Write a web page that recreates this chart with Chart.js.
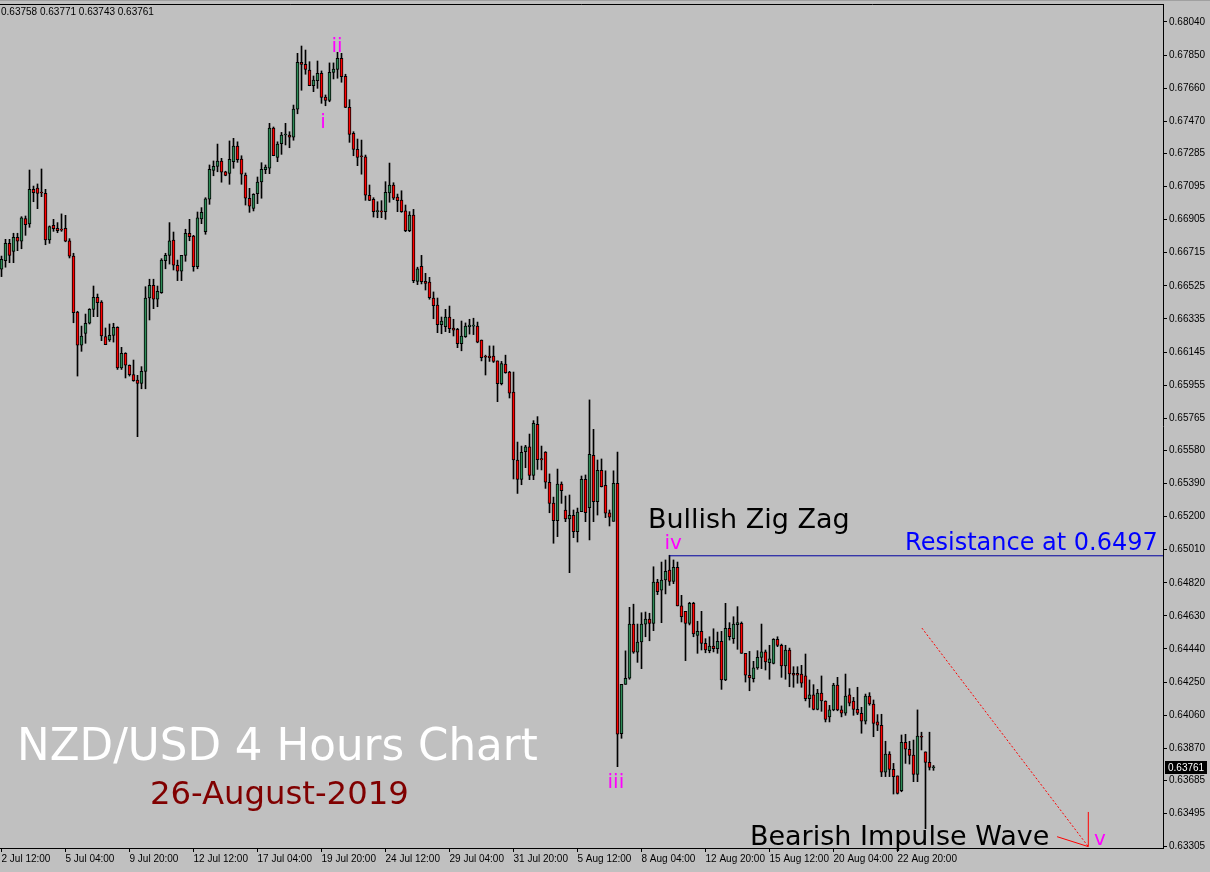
<!DOCTYPE html>
<html>
<head>
<meta charset="utf-8">
<title>NZD/USD 4 Hours Chart</title>
<script src="https://cdn.jsdelivr.net/npm/chart.js@4.4.1/dist/chart.umd.min.js"></script>
<style>
    html, body { margin: 0; padding: 0; background: #C0C0C0; }
    #wrap { width: 1210px; height: 872px; }
</style>
</head>
<body>
<div id="wrap"><canvas id="fxChart" width="1210" height="872"></canvas></div>
<script>
// NZD/USD H4 candles, 2 Jul 12:00 -> 26 Aug 08:00 (one bar per 4 hours, weekends skipped)
const open = [
    0.66620,0.66669,0.66769,0.66723,0.66804,0.66781,0.66911,0.66880,0.67079,0.67087,
    0.67062,0.67056,0.66788,0.66873,0.66855,0.66851,0.66855,0.66784,0.66696,0.66375,
    0.66184,0.66252,0.66310,0.66390,0.66459,0.66432,0.66233,0.66214,0.66241,0.66287,
    0.66053,0.66138,0.66069,0.66015,0.65984,0.65965,0.66034,0.66455,0.66528,0.66448,
    0.66486,0.66669,0.66700,0.66788,0.66643,0.66609,0.66700,0.66827,0.66811,0.66635,
    0.66909,0.66836,0.67022,0.67188,0.67211,0.67242,0.67179,0.67171,0.67238,0.67328,
    0.67253,0.67161,0.67028,0.66970,0.67054,0.67121,0.67192,0.67200,0.67431,0.67263,
    0.67341,0.67391,0.67391,0.67379,0.67539,0.67809,0.67797,0.67764,0.67674,0.67703,
    0.67745,0.67609,0.67590,0.67751,0.67768,0.67831,0.67728,0.67550,0.67401,0.67309,
    0.67268,0.67266,0.67045,0.67022,0.66951,0.66953,0.66951,0.67058,0.67104,0.67035,
    0.67018,0.66955,0.66842,0.66932,0.66551,0.66637,0.66551,0.66546,0.66455,0.66415,
    0.66302,0.66290,0.66346,0.66283,0.66275,0.66193,0.66233,0.66290,0.66294,0.66294,
    0.66214,0.66117,0.66121,0.66121,0.66094,0.65963,0.66076,0.66030,0.65915,0.65525,
    0.65414,0.65573,0.65600,0.65437,0.65730,0.65533,0.65571,0.65397,0.65278,0.65176,
    0.65387,0.65238,0.65187,0.65207,0.65113,0.65228,0.65414,0.65251,0.65552,0.65286,
    0.65466,0.65380,0.65221,0.65173,0.65391,0.63953,0.64237,0.64272,0.64583,0.64421,
    0.64480,0.64583,0.64612,0.64587,0.64824,0.64777,0.64836,0.64893,0.64828,0.64909,
    0.64687,0.64656,0.64587,0.64702,0.64518,0.64541,0.64472,0.64430,0.64457,0.64441,
    0.64484,0.64262,0.64558,0.64499,0.64579,0.64587,0.64415,0.64289,0.64269,0.64331,
    0.64392,0.64423,0.64361,0.64357,0.64495,0.64461,0.64342,0.64434,0.64300,0.64300,
    0.64296,0.64285,0.64154,0.64176,0.64093,0.64187,0.64141,0.64050,0.64090,0.64233,
    0.64090,0.64071,0.64176,0.64141,0.64093,0.64071,0.64025,0.64169,0.64124,0.64021,
    0.64002,0.63732,0.63837,0.63749,0.63711,0.63626,0.63904,0.63864,0.63831,0.63720,
    0.63938,0.63849,0.63789,0.63758
];
const high = [
    0.66696,0.66792,0.66792,0.66827,0.66827,0.66922,0.66926,0.67190,0.67098,0.67110,
    0.67196,0.67079,0.66869,0.66907,0.66888,0.66938,0.66930,0.66796,0.66712,0.66379,
    0.66294,0.66363,0.66394,0.66524,0.66478,0.66440,0.66283,0.66306,0.66310,0.66290,
    0.66172,0.66141,0.66071,0.66099,0.66011,0.66061,0.66520,0.66563,0.66563,0.66524,
    0.66681,0.66712,0.66888,0.66834,0.66673,0.66700,0.66850,0.66907,0.66815,0.66949,
    0.66974,0.67031,0.67219,0.67242,0.67339,0.67257,0.67183,0.67357,0.67372,0.67352,
    0.67272,0.67173,0.67085,0.67054,0.67150,0.67232,0.67219,0.67458,0.67437,0.67352,
    0.67406,0.67458,0.67410,0.67563,0.67860,0.67902,0.67879,0.67812,0.67730,0.67816,
    0.67759,0.67621,0.67805,0.67805,0.67866,0.67860,0.67740,0.67594,0.67410,0.67368,
    0.67362,0.67276,0.67104,0.67031,0.67008,0.67014,0.67123,0.67230,0.67117,0.67052,
    0.67071,0.66989,0.66951,0.66964,0.66632,0.66700,0.66597,0.66574,0.66490,0.66455,
    0.66346,0.66390,0.66409,0.66333,0.66281,0.66323,0.66312,0.66333,0.66339,0.66317,
    0.66214,0.66127,0.66180,0.66180,0.66094,0.66091,0.66127,0.66034,0.66030,0.65628,
    0.65605,0.65609,0.65674,0.65751,0.65774,0.65605,0.65573,0.65445,0.65312,0.65473,
    0.65399,0.65318,0.65324,0.65238,0.65249,0.65433,0.65439,0.65870,0.65701,0.65525,
    0.65531,0.65463,0.65238,0.65463,0.65571,0.64237,0.64429,0.64679,0.64697,0.64583,
    0.64648,0.64652,0.64645,0.64912,0.64840,0.64939,0.64951,0.64978,0.64951,0.64939,
    0.64748,0.64656,0.64708,0.64708,0.64599,0.64656,0.64499,0.64510,0.64556,0.64537,
    0.64541,0.64702,0.64591,0.64625,0.64683,0.64595,0.64415,0.64426,0.64369,0.64430,
    0.64583,0.64434,0.64461,0.64499,0.64510,0.64468,0.64461,0.64445,0.64338,0.64338,
    0.64346,0.64411,0.64262,0.64235,0.64208,0.64285,0.64142,0.64116,0.64243,0.64277,
    0.64113,0.64296,0.64212,0.64162,0.64220,0.64105,0.64181,0.64189,0.64147,0.64063,
    0.64065,0.63910,0.63850,0.63783,0.63711,0.63946,0.63950,0.63910,0.63917,0.64090,
    0.63962,0.63849,0.63962,0.63771
];
const low = [
    0.66578,0.66632,0.66658,0.66658,0.66727,0.66738,0.66815,0.66861,0.67008,0.66968,
    0.67037,0.66761,0.66769,0.66838,0.66830,0.66838,0.66778,0.66685,0.66313,0.66007,
    0.66149,0.66195,0.66306,0.66348,0.66348,0.66210,0.66187,0.66206,0.66202,0.66045,
    0.66045,0.65996,0.66007,0.65977,0.65659,0.65934,0.65934,0.66329,0.66394,0.66405,
    0.66482,0.66623,0.66650,0.66616,0.66555,0.66555,0.66666,0.66784,0.66609,0.66623,
    0.66882,0.66821,0.66993,0.67157,0.67180,0.67120,0.67157,0.67108,0.67200,0.67234,
    0.67108,0.66989,0.66947,0.66955,0.66997,0.67028,0.67169,0.67169,0.67272,0.67238,
    0.67280,0.67334,0.67318,0.67361,0.67513,0.67648,0.67740,0.67674,0.67640,0.67659,
    0.67573,0.67559,0.67582,0.67713,0.67717,0.67694,0.67548,0.67349,0.67272,0.67215,
    0.67166,0.67016,0.67014,0.66920,0.66916,0.66916,0.66907,0.67005,0.67020,0.66951,
    0.66947,0.66836,0.66836,0.66543,0.66532,0.66536,0.66501,0.66448,0.66336,0.66256,
    0.66250,0.66262,0.66256,0.66237,0.66170,0.66152,0.66229,0.66248,0.66245,0.66198,
    0.66094,0.66013,0.66091,0.66085,0.65860,0.65956,0.66023,0.65881,0.65416,0.65333,
    0.65383,0.65481,0.65412,0.65412,0.65471,0.65468,0.65362,0.65222,0.65047,0.65085,
    0.65276,0.65171,0.64878,0.65079,0.65054,0.65228,0.65171,0.65066,0.65171,0.65209,
    0.65370,0.65194,0.65146,0.65173,0.63764,0.63927,0.64237,0.64266,0.64415,0.64363,
    0.64327,0.64510,0.64487,0.64545,0.64752,0.64591,0.64756,0.64805,0.64815,0.64687,
    0.64595,0.64373,0.64578,0.64510,0.64415,0.64434,0.64418,0.64418,0.64423,0.64415,
    0.64208,0.64258,0.64491,0.64472,0.64438,0.64415,0.64250,0.64200,0.64250,0.64323,
    0.64327,0.64319,0.64266,0.64354,0.64453,0.64277,0.64266,0.64223,0.64220,0.64243,
    0.64220,0.64142,0.64105,0.64090,0.64090,0.64082,0.64021,0.64021,0.64085,0.64085,
    0.64050,0.64059,0.64113,0.64059,0.64063,0.63956,0.64009,0.64117,0.63936,0.63971,
    0.63707,0.63707,0.63707,0.63607,0.63607,0.63620,0.63783,0.63779,0.63678,0.63678,
    0.63860,0.63408,0.63745,0.63743
];
const close = [
    0.66677,0.66769,0.66700,0.66804,0.66781,0.66915,0.66876,0.67079,0.67060,0.67056,
    0.67058,0.66788,0.66865,0.66853,0.66842,0.66844,0.66781,0.66696,0.66371,0.66184,
    0.66237,0.66310,0.66390,0.66459,0.66428,0.66237,0.66187,0.66241,0.66287,0.66053,
    0.66138,0.66069,0.66015,0.65980,0.65965,0.66034,0.66455,0.66528,0.66448,0.66494,
    0.66673,0.66700,0.66784,0.66643,0.66609,0.66700,0.66827,0.66807,0.66635,0.66915,
    0.66947,0.67024,0.67194,0.67211,0.67242,0.67177,0.67159,0.67252,0.67328,0.67249,
    0.67166,0.67028,0.66982,0.67051,0.67121,0.67194,0.67207,0.67431,0.67272,0.67339,
    0.67391,0.67393,0.67378,0.67540,0.67809,0.67797,0.67768,0.67674,0.67707,0.67745,
    0.67607,0.67590,0.67751,0.67770,0.67831,0.67726,0.67550,0.67395,0.67309,0.67263,
    0.67266,0.67045,0.67016,0.66951,0.66953,0.66950,0.67062,0.67104,0.67028,0.67014,
    0.66951,0.66842,0.66932,0.66555,0.66622,0.66549,0.66539,0.66457,0.66411,0.66302,
    0.66323,0.66346,0.66279,0.66271,0.66193,0.66237,0.66294,0.66300,0.66296,0.66202,
    0.66113,0.66115,0.66113,0.66091,0.65963,0.66078,0.66026,0.65908,0.65525,0.65414,
    0.65569,0.65600,0.65437,0.65736,0.65527,0.65525,0.65397,0.65276,0.65176,0.65387,
    0.65349,0.65187,0.65207,0.65113,0.65226,0.65414,0.65222,0.65558,0.65286,0.65466,
    0.65372,0.65219,0.65197,0.65391,0.63950,0.64237,0.64272,0.64583,0.64421,0.64480,
    0.64583,0.64612,0.64587,0.64824,0.64769,0.64836,0.64886,0.64828,0.64909,0.64687,
    0.64625,0.64587,0.64702,0.64526,0.64541,0.64472,0.64434,0.64457,0.64441,0.64484,
    0.64262,0.64558,0.64510,0.64583,0.64591,0.64415,0.64289,0.64273,0.64331,0.64392,
    0.64423,0.64365,0.64384,0.64495,0.64461,0.64342,0.64434,0.64296,0.64290,0.64289,
    0.64243,0.64154,0.64176,0.64093,0.64187,0.64142,0.64036,0.64090,0.64233,0.64090,
    0.64071,0.64169,0.64128,0.64093,0.64071,0.64025,0.64169,0.64124,0.64013,0.64002,
    0.63732,0.63837,0.63749,0.63707,0.63611,0.63904,0.63864,0.63829,0.63720,0.63940,
    0.63933,0.63789,0.63760,0.63761
];

// Time axis labels (bar index -> label)
const timeTickIndex = [0, 16, 32, 48, 64, 80, 96, 112, 128, 144, 160, 176, 192, 208, 224];
const timeTickLabels = [
    '2 Jul 12:00', '5 Jul 04:00', '9 Jul 20:00', '12 Jul 12:00', '17 Jul 04:00',
    '19 Jul 20:00', '24 Jul 12:00', '29 Jul 04:00', '31 Jul 20:00', '5 Aug 12:00',
    '8 Aug 04:00', '12 Aug 20:00', '15 Aug 12:00', '20 Aug 04:00', '22 Aug 20:00'
];

// Price axis labels
const priceTicks = [
    0.68040, 0.67850, 0.67660, 0.67470, 0.67285, 0.67095, 0.66905, 0.66715, 0.66525,
    0.66335, 0.66145, 0.65955, 0.65765, 0.65580, 0.65390, 0.65200, 0.65010, 0.64820,
    0.64630, 0.64440, 0.64250, 0.64060, 0.63870, 0.63685, 0.63495, 0.63305
];

// Resistance line and projected wave v arrow (bar index, price)
const resistanceLevel = 0.64975;
const resistanceFrom = 167;
const projectionX = [230.1, 271.7];
const projectionY = [0.64560, 0.63305];
const arrowHeadX = [263.9, 271.7, 271.7];
const arrowHeadY = [0.63362, 0.63305, 0.63504];

// Elliott wave counts (label, bar index, baseline price)
const waveLabels = ['i', 'ii', 'iii', 'iv', 'v'];
const waveX = [80.4, 83.9, 153.6, 167.9, 274.6];
const waveY = [0.67431, 0.67868, 0.63642, 0.65014, 0.63314];

// Chart notes (text, bar index of left edge, baseline price)
const noteTexts = ['Bullish Zig Zag', 'Resistance at 0.6497', 'Bearish Impulse Wave', 'NZD/USD 4 Hours Chart', '26-August-2019'];
const noteX = [161.6, 225.9, 187.1, 3.9, 37.1];
const noteY = [0.65135, 0.65008, 0.63314, 0.63800, 0.63550];

// Colours
const BG = '#C0C0C0';
const BULL = '#2E8B57';
const BEAR = '#FF0000';
const WAVE = '#FF00FF';
const noteStyle = [
    { color: '#000000', size: 27 },
    { color: '#0000FF', size: 24 },
    { color: '#000000', size: 27 },
    { color: '#FFFFFF', size: 43.6 },
    { color: '#800000', size: 32.3 }
];

const AXIS_FONT = { family: 'Liberation Sans', size: 10 };

document.addEventListener('DOMContentLoaded', () => {
    renderChart();
});

function renderChart() {
    const ctx = document.getElementById('fxChart').getContext('2d');

    const wickData = open.map((o, i) => ({ x: i, y: [low[i], high[i]] }));
    const bodyData = open.map((o, i) => ({ x: i, y: [Math.min(o, close[i]), Math.max(o, close[i])] }));
    const bodyColors = open.map((o, i) => close[i] >= o ? BULL : BEAR);

    const resistanceData = [
        { x: resistanceFrom, y: resistanceLevel },
        { x: 300, y: resistanceLevel }
    ];
    const projectionData = projectionX.map((x, i) => ({ x: x, y: projectionY[i] }));
    const arrowData = arrowHeadX.map((x, i) => ({ x: x, y: arrowHeadY[i] }));

    // bar i sits at pixel 4*i + 1.5, plot ends at x = 1163
    const xMin = -0.375;
    const xMax = xMin + 1163 / 4;
    // plot spans y = 4 .. 848
    const yMax = 0.681433;
    const yMin = 0.632971;

    const decor = {
        id: 'decor',
        beforeDraw(chart) {
            const c = chart.ctx;
            c.save();
            c.fillStyle = BG;
            c.fillRect(0, 0, chart.width, chart.height);
            c.fillStyle = '#A0A0A0';
            c.fillRect(0, 0, chart.width, 1);
            c.restore();
        },
        afterDraw(chart) {
            const c = chart.ctx;
            const area = chart.chartArea;
            const xs = chart.scales.x;
            const ys = chart.scales.y;
            const last = close.length - 1;

            c.save();
            // top frame
            c.strokeStyle = '#000000';
            c.lineWidth = 1;
            c.beginPath();
            c.moveTo(0, area.top + 0.5);
            c.lineTo(area.right + 0.5, area.top + 0.5);
            c.stroke();

            // OHLC of the last bar
            c.fillStyle = '#000000';
            c.font = '10px "Liberation Sans"';
            c.textBaseline = 'middle';
            c.textAlign = 'left';
            const ohlc = [open[last], high[last], low[last], close[last]].map(v => v.toFixed(5)).join(' ');
            c.fillText(ohlc, 1, 12);

            // current price box
            const py = Math.round(ys.getPixelForValue(close[last]));
            c.fillStyle = '#000000';
            c.fillRect(area.right + 2, py - 6, 42, 13);
            c.fillStyle = '#FFFFFF';
            c.fillText(close[last].toFixed(5), area.right + 5, py + 1);

            // notes
            c.textBaseline = 'alphabetic';
            noteTexts.forEach((t, i) => {
                c.fillStyle = noteStyle[i].color;
                c.font = noteStyle[i].size + 'px "DejaVu Sans"';
                c.fillText(t, xs.getPixelForValue(noteX[i]), ys.getPixelForValue(noteY[i]));
            });

            // wave counts
            c.fillStyle = WAVE;
            c.font = '20px "DejaVu Sans"';
            c.textAlign = 'center';
            waveLabels.forEach((t, i) => {
                c.fillText(t, xs.getPixelForValue(waveX[i]), ys.getPixelForValue(waveY[i]));
            });
            c.restore();
        }
    };

    new Chart(ctx, {
        type: 'bar',
        data: {
            datasets: [
                {
                    type: 'line',
                    label: 'Resistance',
                    data: resistanceData,
                    borderColor: '#0000A0',
                    borderWidth: 1,
                    pointRadius: 0,
                    order: 0
                },
                {
                    type: 'line',
                    label: 'Projection',
                    data: projectionData,
                    borderColor: '#FF0000',
                    borderWidth: 1,
                    borderDash: [2, 2],
                    pointRadius: 0,
                    order: 0
                },
                {
                    type: 'line',
                    label: 'Arrow',
                    data: arrowData,
                    borderColor: '#FF0000',
                    borderWidth: 1,
                    pointRadius: 0,
                    order: 0
                },
                {
                    label: 'Body',
                    data: bodyData,
                    backgroundColor: bodyColors,
                    borderColor: '#000000',
                    borderWidth: 1,
                    borderSkipped: false,
                    barThickness: 3,
                    minBarLength: 1,
                    grouped: false,
                    order: 1
                },
                {
                    label: 'Wick',
                    data: wickData,
                    backgroundColor: '#000000',
                    borderWidth: 0,
                    barThickness: 1,
                    grouped: false,
                    order: 2
                }
            ]
        },
        options: {
            responsive: false,
            animation: false,
            devicePixelRatio: 1,
            events: [],
            layout: { padding: { top: 4, left: 0, right: 0, bottom: 0 } },
            plugins: {
                legend: { display: false },
                tooltip: { enabled: false }
            },
            scales: {
                x: {
                    type: 'linear',
                    min: xMin,
                    max: xMax,
                    offset: false,
                    border: { display: true, color: '#000000', width: 1 },
                    grid: {
                        offset: false,
                        drawOnChartArea: false,
                        drawTicks: true,
                        tickLength: 4,
                        color: '#000000'
                    },
                    afterBuildTicks: (axis) => {
                        axis.ticks = timeTickIndex.map(v => ({ value: v }));
                    },
                    afterFit: (axis) => {
                        axis.height = 24;
                        axis.paddingLeft = 0;
                        axis.paddingRight = 0;
                    },
                    ticks: {
                        autoSkip: false,
                        maxRotation: 0,
                        align: 'start',
                        padding: 1,
                        color: '#000000',
                        font: AXIS_FONT,
                        callback: (v) => timeTickLabels[timeTickIndex.indexOf(v)]
                    }
                },
                y: {
                    type: 'linear',
                    position: 'right',
                    min: yMin,
                    max: yMax,
                    border: { display: true, color: '#000000', width: 1 },
                    grid: {
                        drawOnChartArea: false,
                        drawTicks: true,
                        tickLength: 4,
                        color: '#000000'
                    },
                    afterBuildTicks: (axis) => {
                        axis.ticks = priceTicks.map(v => ({ value: v }));
                    },
                    afterFit: (axis) => {
                        axis.width = 47;
                        axis.paddingTop = 0;
                        axis.paddingBottom = 0;
                    },
                    ticks: {
                        autoSkip: false,
                        padding: 2,
                        color: '#000000',
                        font: AXIS_FONT,
                        callback: (v) => v.toFixed(5)
                    }
                }
            }
        },
        plugins: [decor]
    });
}
</script>
</body>
</html>
